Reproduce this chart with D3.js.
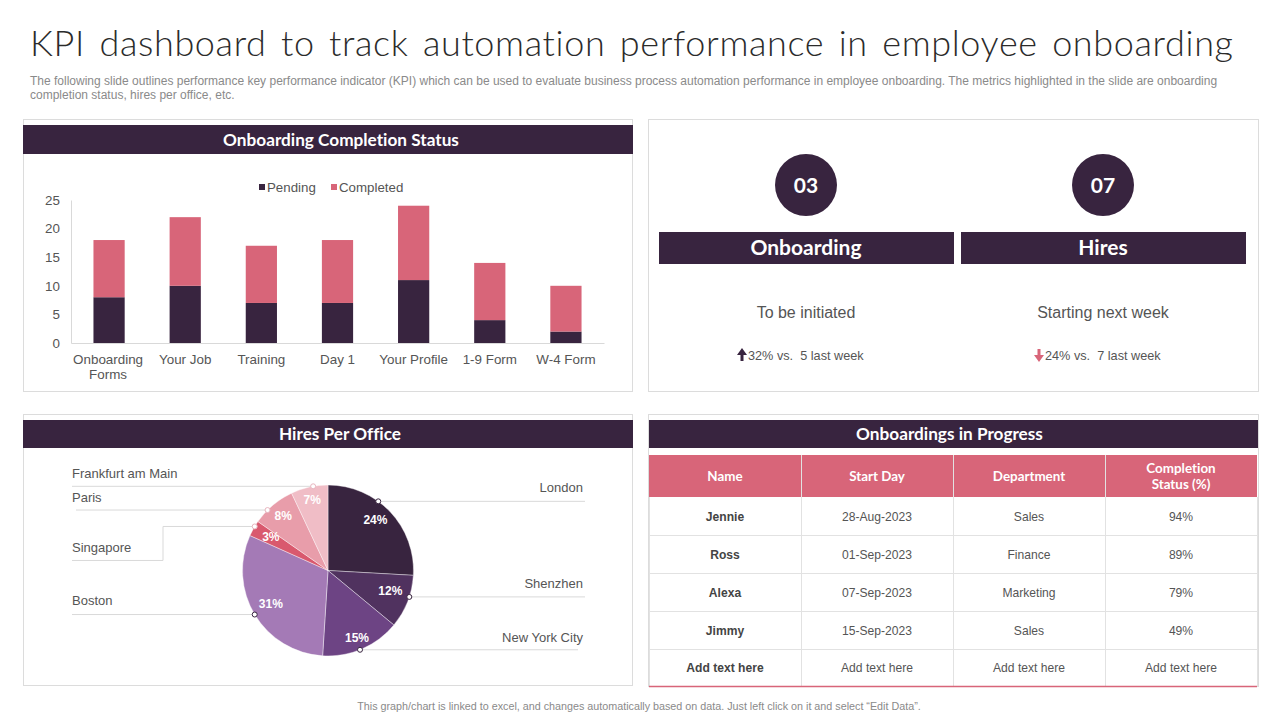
<!DOCTYPE html>
<html>
<head>
<meta charset="utf-8">
<script src="https://cdn.jsdelivr.net/npm/d3@7"></script>
<style>
  html, body { margin: 0; padding: 0; background: #fff; }
  svg { display: block; }
  text { font-family: "Liberation Sans", Arial, sans-serif; }
  .head { font-family: Lato, sans-serif; font-weight: 700; font-variant-ligatures: none; }
</style>
</head>
<body>
<svg id="chart" width="1280" height="720"></svg>
<script>
// bar chart data
const categories = ["Onboarding Forms", "Your Job", "Training", "Day 1", "Your Profile", "1-9 Form", "W-4 Form"];
const pending = [8, 10, 7, 7, 11, 4, 2];
const completed = [10, 12, 10, 11, 13, 10, 8];
const yTicks = [0, 5, 10, 15, 20, 25];

// pie data: slice shares as measured on the picture, printed labels as written
const offices = ["London", "Shenzhen", "New York City", "Boston", "Singapore", "Paris", "Frankfurt am Main"];
const sliceShares = [25.9, 10.1, 15, 30.7, 3, 8.3, 7];
const sliceLabels = ["24%", "12%", "15%", "31%", "3%", "8%", "7%"];

// kpi cards
const kpiNumbers = ["03", "07"];
const kpiTitles = ["Onboarding", "Hires"];
const kpiNotes = ["To be initiated", "Starting next week"];
const kpiTrends = ["32% vs.  5 last week", "24% vs.  7 last week"];

// table
const tableColumns = ["Name", "Start Day", "Department", "Completion|Status (%)"];
const tableNames = ["Jennie", "Ross", "Alexa", "Jimmy", "Add text here"];
const tableDays = ["28-Aug-2023", "01-Sep-2023", "07-Sep-2023", "15-Sep-2023", "Add text here"];
const tableDepts = ["Sales", "Finance", "Marketing", "Sales", "Add text here"];
const tableStatus = ["94%", "89%", "79%", "49%", "Add text here"];

const dark = "#38243f", pink = "#d86579", border = "#dcdcdc", grey = "#555";
const pieColors = ["#38243f", "#50325f", "#6d4484", "#a47ab6", "#d9596e", "#e89daa", "#f0bdc6"];

const svg = d3.select("#chart");

// title block
svg.append("text").attr("class", "title").attr("x", 30).attr("y", 56)
  .attr("textLength", 1203).attr("lengthAdjust", "spacing")
  .style("font-family", "Lato, sans-serif").style("font-weight", "300").style("font-size", "36px")
  .style("font-variant-ligatures", "none").style("word-spacing", "4px").style("fill", "#2b2b2b")
  .text("KPI dashboard to track automation performance in employee onboarding");
const subLines = [
  "The following slide outlines performance key performance indicator (KPI) which can be used to evaluate business process automation performance in employee onboarding. The metrics highlighted in the slide are onboarding",
  "completion status, hires per office, etc."
];
svg.selectAll(".sub").data(subLines).join("text").attr("class", "sub")
  .attr("x", 30).attr("y", (d, i) => 85 + i * 14)
  .style("font-size", "12px").style("fill", "#8a8a8a").text(d => d);
svg.append("text").attr("x", 639).attr("y", 710).attr("text-anchor", "middle")
  .style("font-size", "10.75px").style("fill", "#8a8a8a")
  .text("This graph/chart is linked to excel, and changes automatically based on data. Just left click on it and select \u201CEdit Data\u201D.");

// panels
const panels = [[23, 119, 609, 272], [648, 119, 610, 272], [23, 414, 609, 271], [648, 414, 610, 272]];
svg.selectAll(".panel").data(panels).join("rect").attr("class", "panel")
  .attr("x", d => d[0] + .5).attr("y", d => d[1] + .5).attr("width", d => d[2]).attr("height", d => d[3])
  .attr("fill", "#fff").attr("stroke", border);

const headers = [
  ["Onboarding Completion Status", 23, 125, 610, 29, 341],
  ["Hires Per Office", 23, 420, 610, 28, 340],
  ["Onboardings in Progress", 649, 420, 609, 28, 949.5]
];
headers.forEach(h => {
  svg.append("rect").attr("x", h[1]).attr("y", h[2]).attr("width", h[3]).attr("height", h[4]).attr("fill", dark);
  svg.append("text").attr("class", "head").attr("x", h[5]).attr("y", h[2] + h[4] / 2 + 6)
    .attr("text-anchor", "middle").style("font-size", "17.2px").style("fill", "#fff").text(h[0]);
});

// stacked bars
const x = d3.scaleBand().domain(categories).range([71, 604]).paddingInner(0.59).paddingOuter(0.295);
const y = d3.scaleLinear().domain([0, 25]).range([343, 200]);

const yAxis = svg.append("g").attr("transform", "translate(71,0)")
  .call(d3.axisLeft(y).tickValues(yTicks).tickSize(0).tickPadding(11));
const xAxis = svg.append("g").attr("transform", "translate(0,343)")
  .call(d3.axisBottom(x).tickSize(0).tickPadding(11));
[yAxis, xAxis].forEach(a => {
  a.selectAll("text").style("font-size", "13.4px").style("font-family", "Liberation Sans").style("fill", grey);
  a.select(".domain").attr("stroke", "#d9d9d9");
});
// wrap the long category on two lines
xAxis.selectAll(".tick text").each(function (d) {
  if (d !== "Onboarding Forms") return;
  const t = d3.select(this).text(null);
  t.append("tspan").attr("x", -1).text("Onboarding");
  t.append("tspan").attr("x", -1).attr("dy", 15).text("Forms");
});

svg.selectAll(".pending").data(categories).join("rect").attr("class", "pending")
  .attr("x", d => x(d)).attr("width", x.bandwidth())
  .attr("y", (d, i) => y(pending[i])).attr("height", (d, i) => y(0) - y(pending[i]))
  .attr("fill", dark);
svg.selectAll(".completed").data(categories).join("rect").attr("class", "completed")
  .attr("x", d => x(d)).attr("width", x.bandwidth())
  .attr("y", (d, i) => y(pending[i] + completed[i])).attr("height", (d, i) => y(pending[i]) - y(pending[i] + completed[i]))
  .attr("fill", pink);

// legend
[["Pending", dark, 259], ["Completed", pink, 331]].forEach(l => {
  svg.append("rect").attr("x", l[2]).attr("y", 184).attr("width", 6).attr("height", 6).attr("fill", l[1]);
  svg.append("text").attr("x", l[2] + 8).attr("y", 192).style("font-size", "13.3px").style("fill", grey).text(l[0]);
});

// kpi cards
const kpiX = [806, 1103];
const kpiBars = [[659, 295], [961, 285]];
kpiNumbers.forEach((n, i) => {
  svg.append("circle").attr("cx", kpiX[i]).attr("cy", 185).attr("r", 31).attr("fill", dark);
  svg.append("text").attr("class", "head").attr("x", kpiX[i]).attr("y", 193).attr("text-anchor", "middle")
    .style("font-size", "21px").style("fill", "#fff").text(n);
  svg.append("rect").attr("x", kpiBars[i][0]).attr("y", 232).attr("width", kpiBars[i][1]).attr("height", 32).attr("fill", dark);
  svg.append("text").attr("class", "head").attr("x", kpiX[i]).attr("y", 255).attr("text-anchor", "middle")
    .style("font-size", "21px").style("fill", "#fff").text(kpiTitles[i]);
  svg.append("text").attr("x", kpiX[i]).attr("y", 318).attr("text-anchor", "middle")
    .style("font-size", "16px").style("fill", grey).text(kpiNotes[i]);
  svg.append("text").attr("x", kpiX[i] - 58).attr("y", 360).attr("xml:space", "preserve")
    .style("font-size", "12.7px").style("fill", grey).style("white-space", "pre").text(kpiTrends[i]);
});
// trend arrows
const arrow = (cx, dir, col) => {
  const p = d3.path();
  p.moveTo(cx - 1.5, 355 - dir * 6); p.lineTo(cx + 1.5, 355 - dir * 6); p.lineTo(cx + 1.5, 355);
  p.lineTo(cx + 5, 355); p.lineTo(cx, 355 + dir * 7); p.lineTo(cx - 5, 355); p.lineTo(cx - 1.5, 355);
  p.closePath();
  svg.append("path").attr("d", p.toString()).attr("fill", col);
};
arrow(742, -1, dark);
arrow(1039, 1, pink);

// pie
const cx = 328, cy = 570.5, r = 85.5;
const pieG = svg.append("g").attr("transform", `translate(${cx},${cy})`);
const arcs = d3.pie().sort(null)(sliceShares);
const arc = d3.arc().innerRadius(0).outerRadius(r);
const labelArc = d3.arc().innerRadius(68).outerRadius(68);
const labelNudge = [[-2, -4], [-1, -5], [2, 5], [1, -2], [2, 0], [-1, -3], [-1, -4]];
pieG.selectAll("path").data(arcs).join("path").attr("d", arc)
  .attr("fill", (d, i) => pieColors[i]).attr("stroke", "#fff").attr("stroke-width", 0.4);
pieG.selectAll("text").data(arcs).join("text")
  .attr("transform", (d, i) => {
    const c = labelArc.centroid(d);
    return `translate(${c[0] + labelNudge[i][0]},${c[1] + labelNudge[i][1]})`;
  })
  .attr("text-anchor", "middle").attr("dy", "0.35em")
  .style("font-size", "12px").style("font-weight", "700").style("fill", "#fff")
  .text((d, i) => sliceLabels[i]);

// callouts: angle on the rim in degrees, leader path, label position
const calloutAngle = [36, 108, 158, 239, 301, 315, 350];
const calloutEnds = [[585, 0], [585, 0], [578, 0], [72, 0], [72, 34], [76, 0], [72, 0]];
const calloutText = [[583, 492, "end"], [583, 588, "end"], [583, 642, "end"], [72, 605, "start"], [72, 552, "start"], [72, 502, "start"], [72, 478, "start"]];
const leader = d3.line();
offices.forEach((name, i) => {
  const a = calloutAngle[i] * Math.PI / 180;
  const px = cx + r * Math.sin(a), py = cy - r * Math.cos(a);
  const end = calloutEnds[i];
  const pts = end[1] ? [[px, py], [163, py], [163, py + end[1]], [end[0], py + end[1]]] : [[px, py], [end[0], py]];
  svg.append("path").attr("d", leader(pts)).attr("fill", "none").attr("stroke", "#d9d9d9").attr("stroke-width", 1);
  svg.append("circle").attr("cx", px).attr("cy", py).attr("r", 2.5)
    .attr("fill", "#fff").attr("stroke", i > 3 ? "#e8b5bf" : dark).attr("stroke-width", 1);
  svg.append("text").attr("x", calloutText[i][0]).attr("y", calloutText[i][1]).attr("text-anchor", calloutText[i][2])
    .style("font-size", "13px").style("fill", grey).text(name);
});

// table
const colEdges = [649, 801, 953, 1105, 1257];
const rowEdges = [497, 535, 573, 611, 649, 686];
svg.append("rect").attr("x", 649).attr("y", 455).attr("width", 608).attr("height", 42).attr("fill", pink);
tableColumns.forEach((c, i) => {
  const mid = (colEdges[i] + colEdges[i + 1]) / 2;
  const lines = c.split("|");
  lines.forEach((l, j) => {
    svg.append("text").attr("class", "head").attr("x", mid).attr("y", 481 + (j - (lines.length - 1) / 2) * 16)
      .attr("text-anchor", "middle").style("font-size", "13.4px").style("fill", "#fff").text(l);
  });
});
rowEdges.slice(1, -1).forEach(ry => {
  svg.append("line").attr("x1", 649).attr("x2", 1257).attr("y1", ry + .5).attr("y2", ry + .5).attr("stroke", "#e2e2e2");
});
colEdges.forEach((cxE, i) => {
  svg.append("line").attr("x1", cxE + .5).attr("x2", cxE + .5).attr("y1", i % 4 ? 455 : 497).attr("y2", 686)
    .attr("stroke", "#e2e2e2");
});
svg.append("line").attr("x1", 649).attr("x2", 1257).attr("y1", 686.5).attr("y2", 686.5).attr("stroke", pink).attr("stroke-width", 1.5);
[tableNames, tableDays, tableDepts, tableStatus].forEach((col, i) => {
  const mid = (colEdges[i] + colEdges[i + 1]) / 2;
  col.forEach((v, j) => {
    svg.append("text").attr("x", mid).attr("y", (rowEdges[j] + rowEdges[j + 1]) / 2 + 4.5)
      .attr("text-anchor", "middle").style("font-size", "12.1px")
      .style("font-weight", i === 0 ? "700" : "400").style("fill", i === 0 ? "#444" : grey).text(v);
  });
});
</script>
</body>
</html>
